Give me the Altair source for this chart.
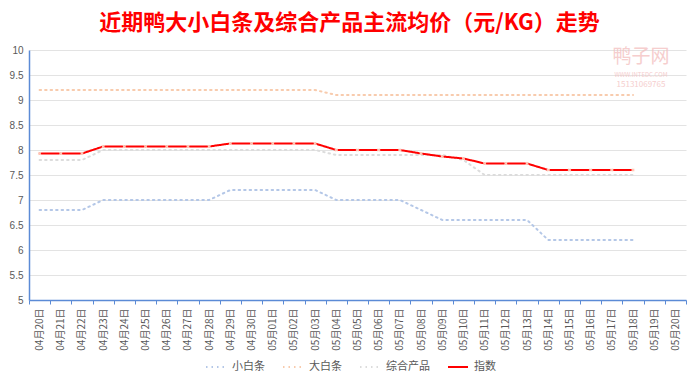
import altair as alt
import pandas as pd

dates = ["04月20日","04月21日","04月22日","04月23日","04月24日","04月25日","04月26日","04月27日",
         "04月28日","04月29日","04月30日","05月01日","05月02日","05月03日","05月04日","05月05日",
         "05月06日","05月07日","05月08日","05月09日","05月10日","05月11日","05月12日","05月13日",
         "05月14日","05月15日","05月16日","05月17日","05月18日","05月19日","05月20日"]

small_white = [6.8,6.8,6.8,7.0,7.0,7.0,7.0,7.0,7.0,7.2,7.2,7.2,7.2,7.2,7.0,7.0,7.0,7.0,
               6.8,6.6,6.6,6.6,6.6,6.6,6.2,6.2,6.2,6.2,6.2]
big_white = [9.2,9.2,9.2,9.2,9.2,9.2,9.2,9.2,9.2,9.2,9.2,9.2,9.2,9.2,9.1,9.1,9.1,9.1,
             9.1,9.1,9.1,9.1,9.1,9.1,9.1,9.1,9.1,9.1,9.1]
combined = [7.8,7.8,7.8,8.0,8.0,8.0,8.0,8.0,8.0,8.0,8.0,8.0,8.0,8.0,7.9,7.9,7.9,7.9,
            7.9,7.9,7.8,7.5,7.5,7.5,7.5,7.5,7.5,7.5,7.5]
index_vals = [7.93,7.93,7.93,8.07,8.07,8.07,8.07,8.07,8.07,8.13,8.13,8.13,8.13,8.13,8.0,8.0,8.0,8.0,
              7.93,7.87,7.83,7.73,7.73,7.73,7.6,7.6,7.6,7.6,7.6]

y_ticks = [5, 5.5, 6, 6.5, 7, 7.5, 8, 8.5, 9, 9.5, 10]

series_names = ["小白条", "大白条", "综合产品", "指数"]
series_colors = ["#b4c7e7", "#f8cbad", "#dcdcdc", "#ff0000"]
series_dash = [[1.5, 4], [1.5, 4], [1.5, 4], [1, 0]]
series_width = [2, 2, 2, 4]

rows = []
for name, vals in zip(series_names, [small_white, big_white, combined, index_vals]):
    for d, v in zip(dates, vals):
        rows.append({"date": d, "value": v, "series": name})
df = pd.DataFrame(rows)

FONT = "Noto Sans CJK SC"

x_axis = alt.Axis(title=None, labelAngle=270, labelFontSize=10, labelColor="#595959",
                  labelFont=FONT, domainColor="#5b8bd6", domainWidth=1.5,
                  tickColor="#5b8bd6", tickSize=4, tickBand="extent", labelPadding=4,
                  grid=False, labelOverlap=False)
y_axis = alt.Axis(title=None, values=y_ticks, labelOverlap=False, format="~g",
                  labelFontSize=10, labelColor="#595959", gridColor="#e3e3e3",
                  domainColor="#5b8bd6", domainWidth=1.5, ticks=False, labelPadding=6)

x_enc = alt.X("date:N", sort=dates, scale=alt.Scale(domain=dates, paddingInner=0, paddingOuter=0),
              axis=x_axis)
y_enc = alt.Y("value:Q", scale=alt.Scale(domain=[5, 10], nice=False, zero=False), axis=y_axis)

lines = alt.Chart(df).mark_line(strokeCap="round").encode(
    x=x_enc,
    y=y_enc,
    color=alt.Color("series:N", scale=alt.Scale(domain=series_names, range=series_colors),
                    sort=series_names,
                    legend=alt.Legend(title=None, orient="none", legendX=176, legendY=306,
                                      direction="horizontal", labelFont=FONT, labelFontSize=11,
                                      labelColor="#595959", symbolType="stroke", symbolSize=400,
                                      columnPadding=14, labelOffset=5)),
    strokeDash=alt.StrokeDash("series:N", scale=alt.Scale(domain=series_names, range=series_dash),
                              sort=series_names, legend=None),
    strokeWidth=alt.StrokeWidth("series:N", scale=alt.Scale(domain=series_names, range=series_width),
                                sort=series_names, legend=None),
)

markers = alt.Chart(df[df["series"] == "指数"]).mark_point(
    shape="cross", angle=45, size=14, filled=True, color="#ffd8c8", opacity=0.9
).encode(x=x_enc, y=y_enc)

wm = pd.DataFrame({"t": ["鸭子网", "WWW.INTEDC.COM", "15131069765"],
                   "px": [612, 612, 612], "py": [7, 25, 35], "fs": [19, 6, 8]})
watermark = alt.Chart(wm).mark_text(color="#f4c2c2", font=FONT, opacity=0.8).encode(
    x=alt.X("px:Q", scale=None), y=alt.Y("py:Q", scale=None), text="t:N",
    size=alt.Size("fs:Q", scale=None, legend=None))

chart = alt.layer(lines, markers, watermark).properties(
    width=657, height=250,
    autosize=alt.AutoSizeParams(type="none"),
    padding={"left": 21, "top": 42, "right": 6, "bottom": 75},
    title=alt.TitleParams("近期鸭大小白条及综合产品主流均价（元/KG）走势", font=FONT,
                          fontSize=22, fontWeight="bold", color="#ff0000",
                          anchor="middle", offset=10, dx=-8),
).configure_view(stroke=None)

chart.save("out.html", embed_options={"renderer": "svg", "actions": False})
